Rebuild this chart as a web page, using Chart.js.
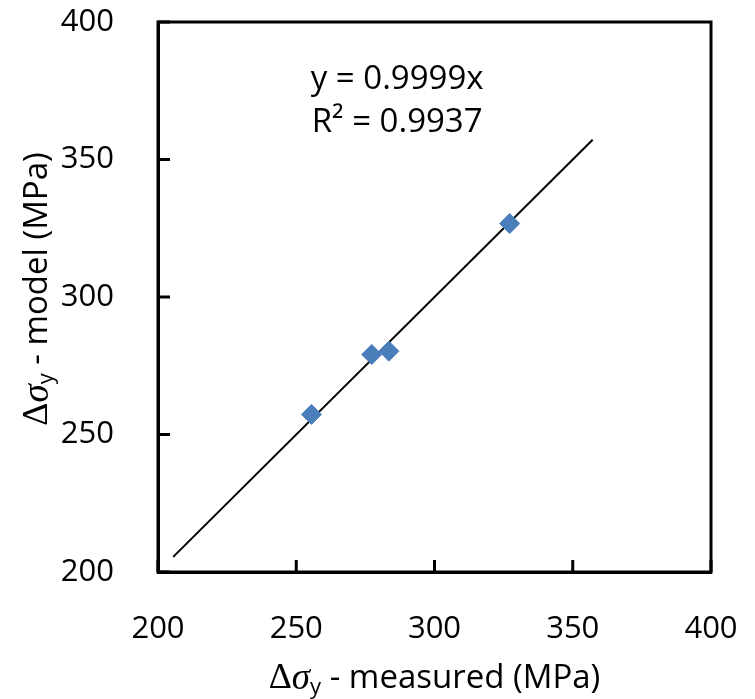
<!DOCTYPE html>
<html>
<head>
<meta charset="utf-8">
<script src="https://cdn.jsdelivr.net/npm/chart.js@4"></script>
<style>
  html, body { margin: 0; padding: 0; background: #fff; }
  #wrap { width: 755px; height: 699px; }
</style>
</head>
<body>
<div id="wrap"><canvas id="chart" width="755" height="699"></canvas></div>
<script>
// dados
const measured = [255.5, 277.3, 283.5, 327.2];
const model = [257.3, 279.1, 280.3, 326.7];
const trendX = [205.5, 357.2];
const trendY = [205.5, 357.2];
const axisTicks = [200, 250, 300, 350, 400];
const eqLines = ["y = 0.9999x", "R² = 0.9937"];

const SANS = '"Open Sans", sans-serif';
const SERIF = '"Liberation Serif", "DejaVu Serif", serif';

// desenha um texto com varias fontes (Δσ_y ...)
function drawRuns(ctx, runs, cx, cy) {
    let total = 0;
    runs.forEach(r => { ctx.font = r.font; r.w = ctx.measureText(r.t).width; total += r.w; });
    let x = cx - total / 2;
    ctx.textBaseline = "middle";
    ctx.textAlign = "left";
    runs.forEach(r => {
        ctx.font = r.font;
        ctx.fillText(r.t, x, cy + (r.dy || 0));
        x += r.w;
    });
}

function titleRuns(rest) {
    return [
        { t: "Δ", font: "36px " + SERIF },
        { t: "σ", font: "italic 37px " + SERIF },
        { t: "y", font: "22px " + SANS, dy: 9 },
        { t: rest, font: "33px " + SANS }
    ];
}

const framePlugin = {
    id: "frame",
    afterDatasetsDraw(chart) {
        const { ctx, chartArea: a } = chart;
        const xs = chart.scales.x;
        const ys = chart.scales.y;
        ctx.save();
        ctx.strokeStyle = "#000";
        ctx.fillStyle = "#000";
        ctx.lineWidth = 3;
        ctx.strokeRect(a.left, a.top, a.right - a.left, a.bottom - a.top);
        // marcas para dentro
        axisTicks.forEach(v => {
            const px = xs.getPixelForValue(v);
            ctx.fillRect(px - 1.5, a.bottom - 12, 3, 12);
            const py = ys.getPixelForValue(v);
            ctx.fillRect(a.left, py - 1.5, 12, 3);
        });
        ctx.restore();
    },
    afterDraw(chart) {
        const { ctx, chartArea: a } = chart;
        ctx.save();
        ctx.fillStyle = "#000";
        // equacao da linha de tendencia
        ctx.font = "33px " + SANS;
        ctx.textAlign = "center";
        ctx.textBaseline = "middle";
        const xs = chart.scales.x;
        const ys = chart.scales.y;
        const ex = xs.getPixelForValue(286.5);
        ctx.fillText(eqLines[0], ex, ys.getPixelForValue(379.0));
        ctx.fillText(eqLines[1], ex, ys.getPixelForValue(363.3));
        // titulos dos eixos
        drawRuns(ctx, titleRuns(" - measured (MPa)"), (a.left + a.right) / 2, 679);
        ctx.translate(38, 289);
        ctx.rotate(-Math.PI / 2);
        drawRuns(ctx, titleRuns(" - model (MPa)"), 0, 0);
        ctx.restore();
    }
};

function noPad(s) {
    s.paddingLeft = 0; s.paddingRight = 0; s.paddingTop = 0; s.paddingBottom = 0;
}

const axisCommon = {
    type: "linear",
    min: 200,
    max: 400,
    afterBuildTicks: s => { s.ticks = axisTicks.map(v => ({ value: v })); },
    grid: { display: false },
    border: { display: true, color: "#000", width: 3 },
    ticks: {
        color: "#000",
        font: { family: "Open Sans", size: 31 },
        padding: 36
    }
};

new Chart(document.getElementById("chart"), {
    type: "scatter",
    data: {
        datasets: [
            {
                label: "dados",
                data: measured.map((x, i) => ({ x, y: model[i] })),
                pointStyle: "rectRot",
                pointRadius: 10,
                backgroundColor: "#4A7EBB",
                borderColor: "#4A7EBB",
                borderWidth: 1
            },
            {
                label: "tendencia",
                type: "line",
                data: trendX.map((x, i) => ({ x, y: trendY[i] })),
                borderColor: "#000",
                borderWidth: 2,
                pointRadius: 0,
                fill: false
            }
        ]
    },
    options: {
        responsive: false,
        animation: false,
        layout: { padding: { top: 22, right: 44, left: 0, bottom: 0 } },
        plugins: { legend: { display: false }, tooltip: { enabled: false } },
        scales: {
            x: Object.assign({}, axisCommon, {
                position: "bottom",
                afterFit: s => { s.height = 127; noPad(s); },
                ticks: Object.assign({}, axisCommon.ticks, { padding: 31 })
            }),
            y: Object.assign({}, axisCommon, {
                position: "left",
                afterFit: s => { s.width = 158; noPad(s); }
            })
        }
    },
    plugins: [framePlugin]
});
</script>
</body>
</html>
